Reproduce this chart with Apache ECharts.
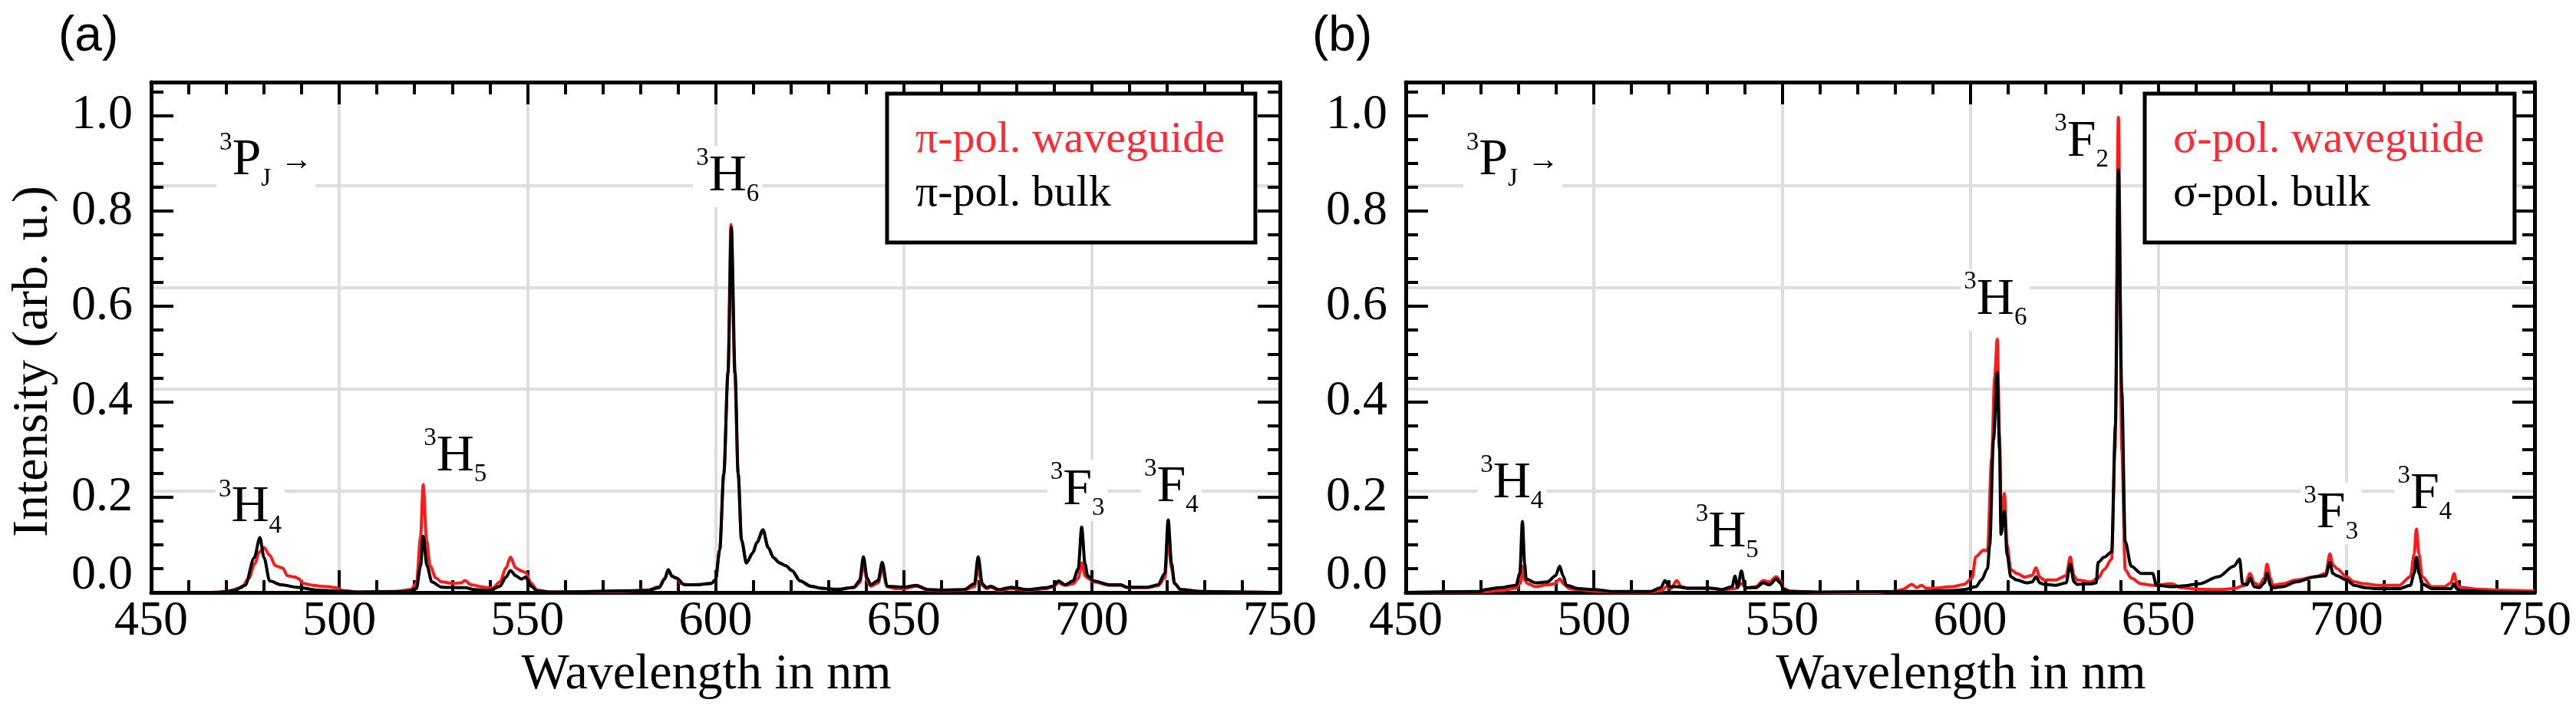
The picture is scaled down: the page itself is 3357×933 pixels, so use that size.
<!DOCTYPE html>
<html>
<head>
<meta charset="utf-8">
<title>Polarised emission spectra</title>
<script src="https://cdn.jsdelivr.net/npm/echarts@6/dist/echarts.min.js"></script>
<style>
  html, body { margin: 0; padding: 0; background: #fff; }
  #chart { width: 3357px; height: 933px; }
</style>
</head>
<body>
<div id="chart"></div>
<script>
// spectra as [wavelength in nm, intensity in arb. u.]
const piWaveguide = [
  [450,0],[465,0],[470,0.002],[474,0.01],[476,0.03],[477.5,0.06],[478.8,0.085],[480,0.094],[481.5,0.078],
  [483,0.056],[485,0.051],[486.2,0.035],[488.2,0.032],[489.2,0.029],[490.3,0.019],[493,0.015],[495,0.013],
  [497,0.012],[499,0.01],[501,0.004],[505,0.001],[515,0.002],[519,0.006],[520.5,0.019],[521.6,0.116],
  [522.3,0.226],[523.2,0.11],[524.1,0.056],[525.7,0.03],[527.2,0.022],[530.3,0.019],[532.4,0.02],[533.4,0.025],
  [535,0.016],[538.6,0.011],[540.7,0.009],[542.7,0.022],[544.3,0.051],[545.5,0.074],[546.9,0.051],[548.4,0.045],
  [549.5,0.042],[551,0.019],[552.6,0.005],[556,0.001],[575,0.002],[582,0.005],[585,0.012],[586.5,0.03],
  [587.4,0.046],[588.5,0.033],[589.6,0.03],[591,0.018],[593,0.016],[596,0.017],[598.9,0.019],[600,0.027],
  [601.1,0.089],[602.2,0.25],[603.3,0.46],[604.1,0.771],[605.1,0.46],[606,0.25],[606.9,0.11],[608.2,0.062],
  [609.9,0.083],[611,0.105],[612.6,0.131],[614,0.094],[615.4,0.073],[617,0.062],[618.7,0.056],[620.3,0.046],
  [622.5,0.024],[625.3,0.013],[628,0.009],[632,0.007],[636.8,0.01],[638.3,0.02],[639.3,0.06],[640.3,0.024],
  [641.2,0.013],[643.2,0.02],[644.3,0.05],[645.6,0.012],[648,0.008],[650,0.008],[653.3,0.013],[656.6,0.005],
  [660,0.004],[666,0.005],[668.8,0.012],[669.8,0.05],[670.9,0.015],[672,0.008],[673.1,0.011],[675.3,0.004],
  [678.6,0.008],[683,0.005],[688,0.008],[689.6,0.012],[691.2,0.02],[692.9,0.015],[695,0.018],[696.4,0.03],
  [697.3,0.062],[698.2,0.035],[698.9,0.03],[700.5,0.022],[704.9,0.015],[707.7,0.015],[709.3,0.01],[714.8,0.01],
  [717.6,0.014],[719.4,0.03],[720.3,0.115],[721.2,0.05],[722,0.018],[723.6,0.006],[729,0.002],[740,0.001],[750,0]
];
const piBulk = [
  [450,0],[468,0],[472,0.004],[475,0.015],[477.4,0.073],[478.9,0.115],[480,0.073],[481.5,0.024],[484.6,0.016],
  [488.8,0.011],[494,0.005],[499,0.003],[505,0.001],[518,0.002],[520.5,0.008],[521.6,0.056],[522.3,0.118],
  [523.3,0.056],[524.6,0.022],[527.2,0.011],[533.4,0.01],[536,0.006],[540,0.004],[542.7,0.013],[544.3,0.032],
  [545.5,0.046],[546.9,0.035],[548.4,0.028],[549.5,0.032],[551,0.013],[552.6,0.003],[556,0.001],[582,0.004],
  [585,0.01],[586.5,0.028],[587.4,0.048],[588.5,0.034],[589.6,0.03],[591.8,0.016],[595,0.016],[598.9,0.019],
  [600,0.027],[601.1,0.089],[602.2,0.25],[603.3,0.46],[604.2,0.765],[605.2,0.46],[606,0.25],[606.9,0.11],
  [608.2,0.062],[609.9,0.083],[611,0.105],[612.6,0.131],[614,0.094],[615.4,0.073],[617,0.062],[618.7,0.056],
  [620.3,0.046],[622.5,0.024],[625.3,0.013],[628,0.009],[632.4,0.006],[636.8,0.011],[638.3,0.025],[639.3,0.075],
  [640.3,0.03],[641.2,0.016],[643.2,0.025],[644.3,0.063],[645.6,0.013],[650,0.011],[653.3,0.015],[656.6,0.006],
  [660,0.005],[666,0.006],[668.8,0.018],[669.8,0.075],[670.9,0.018],[672,0.01],[673.1,0.013],[675.3,0.006],
  [678.6,0.011],[683,0.006],[688,0.01],[689.6,0.013],[691.2,0.024],[692.9,0.016],[695,0.024],[696.4,0.05],
  [697.3,0.137],[698.2,0.06],[698.9,0.035],[700.5,0.024],[704.9,0.016],[707.7,0.016],[709.3,0.011],[714.8,0.011],
  [717.6,0.016],[719.4,0.04],[720.3,0.152],[721.2,0.06],[722,0.019],[723.6,0.006],[729.1,0.002],[740,0.001],[750,0]
];
const sigmaWaveguide = [
  [450,0],[470,0.001],[475,0.004],[479.3,0.009],[480.5,0.02],[481,0.055],[481.6,0.025],[482.5,0.018],[484.5,0.012],
  [487.6,0.016],[489.5,0.018],[490.9,0.028],[492.2,0.016],[493.5,0.008],[496,0.006],[500,0.003],[505,0.001],
  [515,0.001],[518,0.004],[519.3,0.012],[520.5,0.008],[522,0.025],[523.2,0.012],[525,0.009],[531,0.009],
  [534,0.006],[537.5,0.008],[539.2,0.018],[540.5,0.009],[543,0.012],[545,0.025],[546.6,0.022],[548.5,0.033],
  [549.5,0.025],[550.5,0.008],[552,0.003],[560,0],[575,0],[580,0.002],[582,0.006],[584.5,0.017],[585.8,0.01],
  [587,0.015],[588.3,0.009],[590,0.009],[595.3,0.012],[598.4,0.017],[600.5,0.03],[601.5,0.075],[603.6,0.089],
  [604.6,0.087],[605.7,0.28],[606.5,0.45],[607.2,0.531],[607.8,0.33],[608.3,0.137],[609.1,0.207],[609.8,0.1],
  [610.8,0.048],[612.4,0.04],[614.5,0.032],[616.5,0.036],[617.5,0.052],[618.5,0.032],[619.6,0.026],[622.7,0.026],
  [625.5,0.035],[626.6,0.074],[627.6,0.035],[628.4,0.026],[632,0.022],[634,0.03],[635.6,0.048],[637.6,0.07],
  [638.5,0.3],[639.4,0.996],[640.3,0.3],[641.2,0.048],[642.8,0.03],[645.4,0.018],[648.5,0.015],[653.6,0.018],
  [656,0.01],[660.8,0.007],[666,0.006],[670,0.008],[673,0.015],[674.4,0.04],[675.5,0.02],[676.8,0.015],
  [678.2,0.03],[678.9,0.059],[679.8,0.03],[680.4,0.015],[683,0.018],[686.6,0.026],[691.8,0.033],[694.5,0.04],
  [695.6,0.081],[696.4,0.058],[697.5,0.05],[700,0.033],[702.1,0.022],[705,0.018],[708.2,0.015],[714,0.015],
  [717,0.033],[718,0.08],[718.6,0.133],[719.3,0.08],[720.1,0.033],[722.7,0.012],[726,0.012],[727.8,0.02],
  [728.6,0.04],[729.3,0.02],[730,0.011],[735,0.007],[740,0.005],[750,0.003]
];
const sigmaBulk = [
  [450,0],[470,0.002],[471,0.006],[475,0.01],[479.3,0.015],[480.3,0.04],[481,0.149],[481.6,0.06],[482,0.028],
  [484.5,0.02],[487.6,0.022],[489.8,0.035],[490.9,0.055],[491.8,0.035],[492.7,0.015],[495.9,0.008],[500,0.006],
  [505,0.002],[515,0.002],[517.8,0.01],[518.9,0.025],[520,0.012],[522,0.012],[524.9,0.009],[531,0.009],
  [534,0.006],[536.7,0.012],[537.5,0.034],[538.2,0.01],[539.2,0.045],[540.2,0.01],[543,0.01],[545,0.02],
  [546.6,0.016],[548.5,0.028],[549.5,0.02],[550.5,0.006],[552,0.002],[560,0.001],[585,0.002],[595,0.004],
  [598.4,0.006],[601.5,0.012],[603,0.026],[604.6,0.05],[605.2,0.1],[606.2,0.32],[607.2,0.461],[607.8,0.3],
  [608.2,0.122],[609.1,0.17],[609.8,0.08],[610.8,0.033],[612.4,0.026],[615,0.02],[616.5,0.022],[617.5,0.033],
  [618.5,0.02],[619.6,0.017],[622.7,0.015],[625.5,0.02],[626.6,0.059],[627.6,0.022],[628.4,0.017],[632,0.018],
  [633.5,0.02],[634,0.063],[635.6,0.074],[637.6,0.085],[638.6,0.35],[639.4,0.886],[640.3,0.42],[641.2,0.107],
  [642.8,0.055],[645.4,0.04],[648.5,0.04],[649.5,0.015],[653.6,0.012],[657,0.014],[660.8,0.018],[666,0.033],
  [670.1,0.055],[671.6,0.07],[672.4,0.018],[673.6,0.016],[674.4,0.03],[675.5,0.012],[676.8,0.01],[678.2,0.02],
  [678.9,0.04],[679.8,0.015],[680.4,0.01],[683,0.012],[686.6,0.022],[691.8,0.033],[694.5,0.035],[695.6,0.063],
  [696.4,0.04],[697.5,0.035],[700,0.026],[702.1,0.015],[705,0.01],[708.2,0.008],[714,0.008],[717,0.015],
  [718,0.04],[718.6,0.074],[719.3,0.04],[720.1,0.018],[722.7,0.008],[727.8,0.008],[728.6,0.018],[729.3,0.008],
  [730,0.004],[740,0.001],[750,0]
];

// transition labels: [term, index, wavelength, intensity]
const termsA = [
  ['P','J',480.5,0.905],['H','4',476.3,0.178],['H','5',530.8,0.285],['H','6',603.2,0.872],
  ['F','3',696.2,0.214],['F','4',721.1,0.221]
];
const termsB = [
  ['P','J',478.4,0.905],['H','4',478.2,0.229],['H','5',535.4,0.126],['H','6',606.7,0.613],
  ['F','2',629.6,0.944],['F','3',695.9,0.165],['F','4',720.8,0.206]
];

const xMin = 450, xMax = 750, xStep = 50;
const yMax = 1.07, yStep = 0.2;
const gridMax = 1.004;   // the grid lines of the original are drawn slightly off the y ticks

const serif = "'Liberation Serif', 'Times New Roman', serif";
const sans = "'Liberation Sans', Arial, sans-serif";
const RED = '#ff1a1a';
const RED_TEXT = '#ff2a33';

function xAxes(gi) {
  const common = {
    type: 'value', gridIndex: gi, min: xMin, max: xMax, interval: xStep,
    axisLine: { onZero: false, lineStyle: { color: '#000', width: 5 } },
    axisTick: { inside: true, length: 29, lineStyle: { color: '#000', width: 4 } },
    minorTick: { show: true, splitNumber: 5, length: 16, lineStyle: { color: '#000', width: 4 } }
  };
  return [
    Object.assign({}, common, {
      position: 'bottom',
      name: 'Wavelength in nm', nameLocation: 'middle', nameGap: 74,
      nameTextStyle: { fontFamily: serif, fontSize: 66, color: '#000', padding: [0, 24, 0, 0] },
      axisLabel: { margin: 6, fontFamily: serif, fontSize: 64, color: '#000' },
      splitLine: { show: true, lineStyle: { color: '#dedede', width: 4 } }
    }),
    Object.assign({}, common, { position: 'top', axisLabel: { show: false }, splitLine: { show: false } })
  ];
}

function yAxes(gi) {
  const major = {
    type: 'value', gridIndex: gi, min: 0, max: yMax, interval: yStep,
    axisLine: { onZero: false, lineStyle: { color: '#000', width: 5 } },
    axisTick: { inside: true, length: 29, lineStyle: { color: '#000', width: 4 } },
    axisLabel: { show: false }, splitLine: { show: false }
  };
  const minor = {
    type: 'value', gridIndex: gi, min: 0, max: yMax, interval: yStep / 4,
    axisLine: { show: false },
    axisTick: { inside: true, length: 16, lineStyle: { color: '#000', width: 4 } },
    axisLabel: { show: false }, splitLine: { show: false }
  };
  const clear = 'rgba(0,0,0,0)';
  return [
    Object.assign({}, major, {
      position: 'left',
      axisLabel: {
        show: true, margin: 24, fontFamily: serif, fontSize: 64, color: '#000',
        formatter: v => {
          if (Math.abs(v / yStep - Math.round(v / yStep)) > 1e-6) return '';
          return Math.abs(v) < 1e-9 ? '{z|0.0}' : v.toFixed(1);
        },
        rich: { z: { fontFamily: serif, fontSize: 64, color: '#000', padding: [0, 0, 44, 0] } }
      }
    }),
    Object.assign({}, minor, { position: 'left' }),
    Object.assign({}, major, { position: 'right' }),
    Object.assign({}, minor, { position: 'right' }),
    {
      type: 'value', gridIndex: gi, min: 0, max: gridMax, interval: yStep, position: 'left',
      axisLine: { show: false }, axisTick: { show: false }, axisLabel: { show: false },
      splitLine: { show: true, lineStyle: { width: 4,
        color: ['#dedede', '#dedede', '#dedede', '#dedede', '#dedede', clear, clear] } }
    }
  ];
}

const rich = {
  s: { fontFamily: serif, fontSize: 33, lineHeight: 40, verticalAlign: 'top', color: '#000' },
  b: { fontFamily: serif, fontSize: 68, lineHeight: 80, verticalAlign: 'middle', color: '#000' },
  d: { fontFamily: serif, fontSize: 33, lineHeight: 32, verticalAlign: 'bottom', color: '#000' },
  a: { fontFamily: serif, fontSize: 42, lineHeight: 40, verticalAlign: 'middle', color: '#000', padding: [0, 0, 0, 12] }
};

function termSeries(terms, xi, yi) {
  return {
    type: 'scatter', xAxisIndex: xi, yAxisIndex: yi, z: 1, silent: true,
    symbolSize: 1, itemStyle: { color: '#fff', opacity: 1 },
    label: { show: true, position: 'inside', opacity: 1, textBorderWidth: 0,
      backgroundColor: '#fff', padding: [0, 4], color: '#000', rich: rich },
    data: terms.map(t => ({
      value: [t[2], t[3]],
      label: { formatter: '{s|3}{b|' + t[0] + '}{d|' + t[1] + '}' + (t[0] === 'P' ? '{a|→}' : '') }
    }))
  };
}

function spectrum(name, data, color, xi, yi, z) {
  return {
    name: name, type: 'line', xAxisIndex: xi, yAxisIndex: yi, data: data, z: z,
    showSymbol: false, smooth: 0.3, smoothMonotone: 'x',
    lineStyle: { color: color, width: 4 }, itemStyle: { color: color }
  };
}

function legendBox(left, names) {
  return {
    left: left, top: 122, orient: 'vertical', selectedMode: false,
    icon: 'rect', itemWidth: 0, itemHeight: 0, itemGap: 0,
    padding: [26, 40, 28, 32],
    backgroundColor: '#fff', borderColor: '#000', borderWidth: 5,
    textStyle: { fontFamily: serif, fontSize: 58, lineHeight: 70, color: '#000' },
    data: [{ name: names[0], textStyle: { color: RED_TEXT } }, { name: names[1] }]
  };
}

const chart = echarts.init(document.getElementById('chart'));
chart.setOption({
  animation: false,
  backgroundColor: '#fff',
  grid: [
    { left: 197, right: 1689, top: 107, bottom: 161 },
    { left: 1832, right: 54, top: 107, bottom: 161 }
  ],
  xAxis: xAxes(0).concat(xAxes(1)),
  yAxis: yAxes(0).concat(yAxes(1)),
  legend: [
    legendBox(1156, ['π-pol. waveguide', 'π-pol. bulk']),
    legendBox(2795, ['σ-pol. waveguide', 'σ-pol. bulk'])
  ],
  graphic: [
    { type: 'text', left: 76, top: 16, style: { text: '(a)', font: '64px ' + sans, fill: '#000' } },
    { type: 'text', left: 1710, top: 16, style: { text: '(b)', font: '64px ' + sans, fill: '#000' } },
    { type: 'text', x: 44, y: 471, rotation: Math.PI / 2,
      style: { text: 'Intensity (arb. u.)', font: '66px ' + serif, fill: '#000', align: 'center', verticalAlign: 'middle' } }
  ],
  series: [
    termSeries(termsA, 0, 0),
    spectrum('π-pol. waveguide', piWaveguide, RED, 0, 0, 2),
    spectrum('π-pol. bulk', piBulk, '#000', 0, 0, 3),
    termSeries(termsB, 2, 5),
    spectrum('σ-pol. waveguide', sigmaWaveguide, RED, 2, 5, 2),
    spectrum('σ-pol. bulk', sigmaBulk, '#000', 2, 5, 3)
  ]
});
</script>
</body>
</html>
